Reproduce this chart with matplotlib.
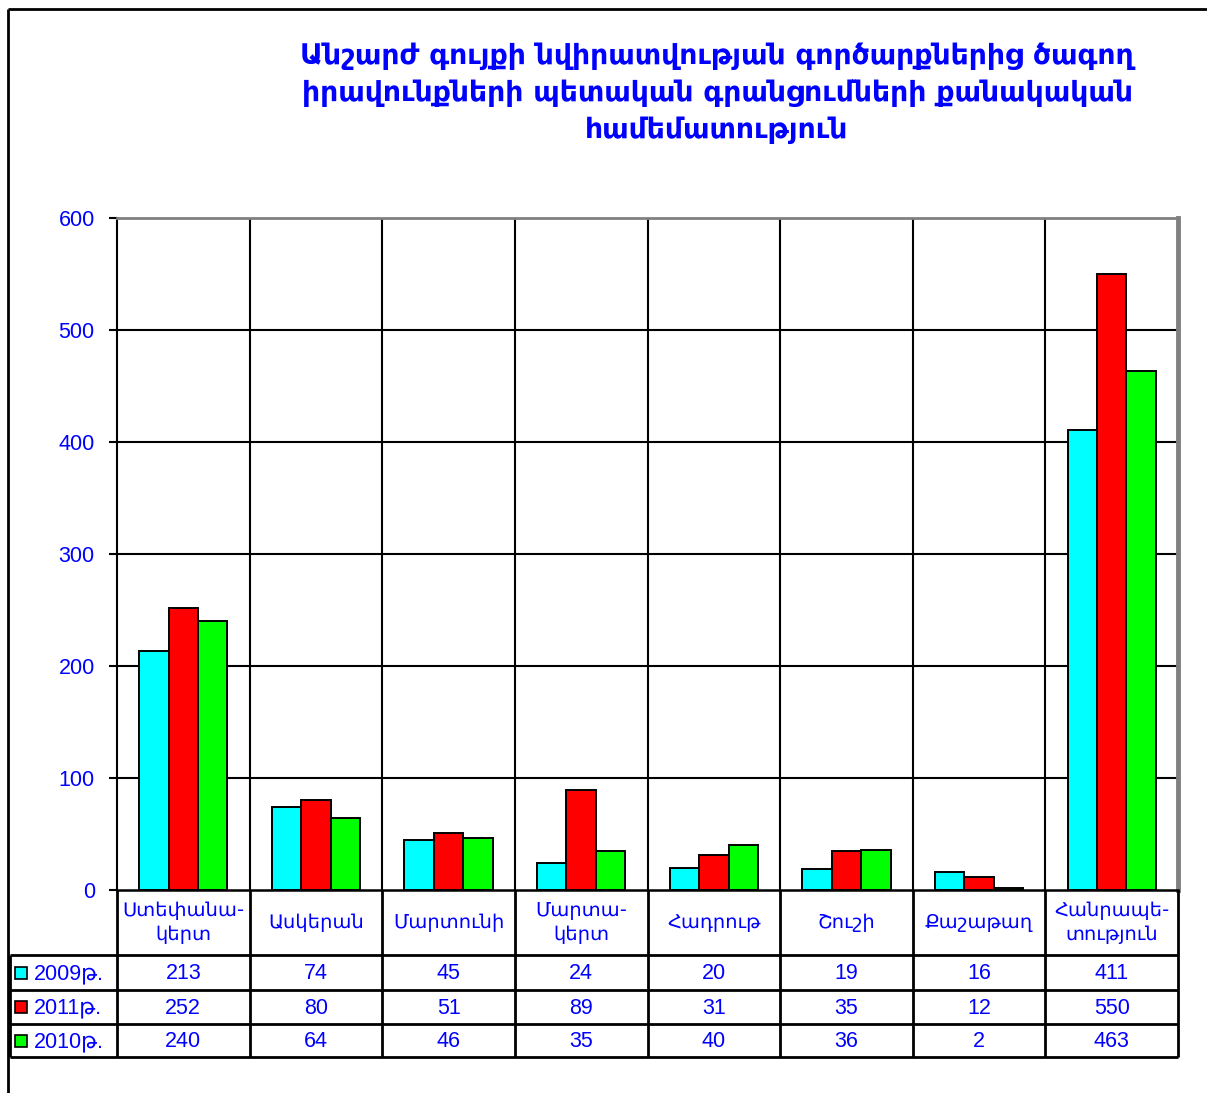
import matplotlib
matplotlib.use("Agg")
import matplotlib.pyplot as plt
from matplotlib.patches import Rectangle
from matplotlib.lines import Line2D
import numpy as np

plt.rcParams['font.family'] = ['Liberation Sans', 'DejaVu Sans']

title = "Անշարժ գույքի նվիրատվության գործարքներից ծագող\nիրավունքների պետական գրանցումների քանակական\nհամեմատություն"
categories = ["Ստեփանա-\nկերտ", "Ասկերան", "Մարտունի", "Մարտա-\nկերտ", "Հադրութ",
              "Շուշի", "Քաշաթաղ", "Հանրապե-\nտություն"]
series_names = ["2009թ.", "2011թ.", "2010թ."]
v2009 = [213, 74, 45, 24, 20, 19, 16, 411]
v2011 = [252, 80, 51, 89, 31, 35, 12, 550]
v2010 = [240, 64, 46, 35, 40, 36, 2, 463]
series = [v2009, v2011, v2010]
colors = ["#00FFFF", "#FF0000", "#00FF00"]
yticks = [0, 100, 200, 300, 400, 500, 600]

W, H = 1207, 1093
fig = plt.figure(figsize=(W / 100, H / 100), dpi=100)
blue = "#0000FF"

# pixel layout
L, R, T, B = 117, 1178, 218, 890
ax = fig.add_axes([L / W, 1 - B / H, (R - L) / W, (B - T) / H])
n = len(categories)
x = np.arange(n) + 0.5
bw = 0.222
for k, (vals, c) in enumerate(zip(series, colors)):
    ax.bar(x + (k - 1) * bw, vals, width=bw, color=c, edgecolor="black", linewidth=1.4, zorder=3)
ax.set_xlim(0, n)
ax.set_ylim(0, 600)
ax.set_yticks(yticks)
ax.set_yticklabels([str(t) for t in yticks], color=blue, fontsize=15.5)
ax.tick_params(axis='y', length=6, width=1.5, color="black", pad=10)
ax.set_xticks([])
for yv in yticks[1:-1]:
    ax.axhline(yv, color="black", lw=1.5, zorder=1)
for i in range(1, n):
    ax.axvline(i, color="black", lw=1.5, zorder=1)
ax.spines['left'].set_linewidth(1.5)
ax.spines['bottom'].set_linewidth(1.8)
ax.spines['top'].set_color("#808080")
ax.spines['top'].set_linewidth(2)
ax.spines['right'].set_color("#808080")
ax.spines['right'].set_linewidth(3.5)

# overlay for frame and table
ov2 = fig.add_axes([0, 0, 1, 1], zorder=5)
ov2.set_xlim(0, W)
ov2.set_ylim(H, 0)
ov2.axis("off")
ov2.patch.set_alpha(0)

def ln(xs, ys, lw=2, c="black"):
    ov2.add_line(Line2D(xs, ys, color=c, lw=lw, solid_capstyle="butt"))

# outer frame
ln([8, 8], [9, H], lw=2)
ln([8, W], [9, 9], lw=2)

# title
fig.text(717 / W, 1 - 93 / H, title, ha="center", va="center", color=blue,
         fontsize=20.3, fontweight="bold", linespacing=1.4, family=['DejaVu Sans'])

cw = (R - L) / n
rows_y = [955, 990, 1024, 1057]
legL = 10
# table lines
for i in range(n + 1):
    ln([L + i * cw, L + i * cw], [B, rows_y[-1]])
ln([legL, legL], [rows_y[0], rows_y[-1]])
for yy in rows_y:
    ln([legL, R], [yy, yy])

# category labels
for i, cat in enumerate(categories):
    ov2.text(L + (i + 0.5) * cw, (B + rows_y[0]) / 2, cat, ha="center", va="center",
             color=blue, fontsize=14, linespacing=1.3, family=['DejaVu Sans'])

# rows
for r, (name, vals, c) in enumerate(zip(series_names, series, colors)):
    yc = (rows_y[r] + rows_y[r + 1]) / 2
    ov2.add_patch(Rectangle((15, yc - 6), 12, 12, facecolor=c, edgecolor="black", lw=1.2))
    ov2.text(34, yc + 1, name, ha="left", va="center", color=blue, fontsize=15.5)
    for i, v in enumerate(vals):
        ov2.text(L + (i + 0.5) * cw, yc + 1, str(v), ha="center", va="center", color=blue, fontsize=15.5)

fig.savefig("out.png", dpi=100)
